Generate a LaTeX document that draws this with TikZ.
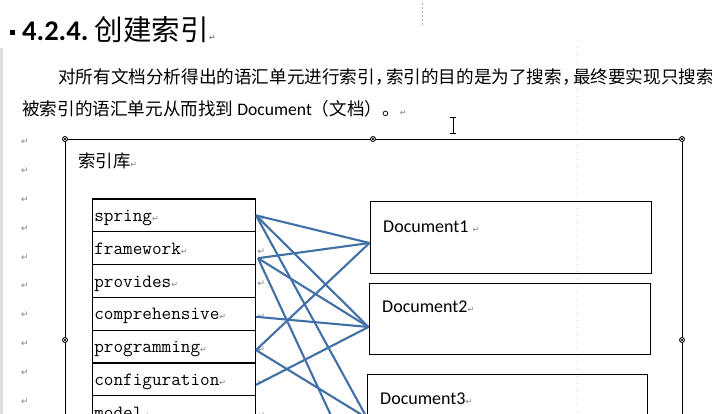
\documentclass[tikz,border=0pt]{standalone}
\usepackage{fontspec}
\setmainfont{Carlito}
\newfontfamily\cjk{Noto Sans CJK SC}
\newfontfamily\markfont{DejaVu Sans}
\usepackage{tikz}
\usetikzlibrary{calc}
\definecolor{linkblue}{RGB}{64,112,166}
\newcommand\retmark{{\markfont\fontsize{8}{8}\selectfont\color{gray}↵}}
\newcommand\halfcomma{\makebox[11pt][l]{，}}
\tikzset{
  cell/.style={draw, line width=1.1pt, anchor=west, minimum height=32.8pt, text width=159pt, text height=13pt, text depth=1pt, inner xsep=2.2pt, inner ysep=0pt, font=\ttfamily\fontsize{18.7}{20}\selectfont},
  docbox/.style={draw, line width=1pt, minimum width=281pt, minimum height=71pt, inner sep=0pt},
  doclbl/.style={anchor=west, inner sep=0pt, font=\fontsize{18}{20}\selectfont},
  link/.style={draw=linkblue, line width=2.1pt},
  retm/.style={inner sep=0pt, text=gray, font=\markfont\fontsize{9}{9}\selectfont},
  handle/.style={draw, circle, fill=white, minimum size=5pt, inner sep=0pt, line width=0.8pt,
    path picture={\draw[line width=0.5pt] (path picture bounding box.south west) -- (path picture bounding box.north east)
      (path picture bounding box.north west) -- (path picture bounding box.south east);}}
}
\begin{document}
\begin{tikzpicture}[x=1pt, y=-1pt,
  txt/.style={anchor=west, inner sep=0pt}]
\useasboundingbox (0,0) rectangle (712,414);
\clip (0,0) rectangle (712,414);
\fill[gray!25] (0,48) rectangle (2.5,414);
\draw[gray!60, dash pattern=on 2pt off 2pt, line width=0.8pt] (422,3) -- (422,27);
\draw[cyan!35, dash pattern=on 1pt off 6pt, line width=0.8pt] (577,47) -- (577,414);
\node[fill=black, minimum size=5pt, inner sep=0pt] (bul) at (12.5,33) {};
\node[txt] (title) at (22,30) {\fontsize{28.5}{30}\selectfont\bfseries 4.2.4.\ {\cjk\mdseries 创建索引}\retmark};
\node[txt] (para1) at (58,77) {\cjk\fontsize{17.6}{20}\selectfont 对所有文档分析得出的语汇单元进行索引\halfcomma 索引的目的是为了搜索\halfcomma 最终要实现只搜索};
\node[txt] (para2) at (22,109) {\fontsize{17.6}{20}\selectfont{\cjk 被索引的语汇单元从而找到} Document{\cjk （文档）。}\retmark};
\draw[line width=0.8pt] (450,117) -- (456,117) (453,117) -- (453,133) (450,133) -- (456,133);
\foreach \k in {0,...,9}
  \node[retm] (m\k) at (25,142+28.8*\k) {↵};
\draw[line width=0.9pt] (65,460) -- (65,139) -- (682,139) -- (682,460);
\node[txt] (lib) at (78,161) {\cjk\fontsize{17.4}{20}\selectfont 索引库\retmark};
\node[cell] (spring) at (91.5,215.4) {spring\retmark};
\node[cell] (framework) at (91.5,248.2) {framework\retmark};
\node[cell] (provides) at (91.5,281) {provides\retmark};
\node[cell] (comprehensive) at (91.5,313.8) {comprehensive\retmark};
\node[cell] (programming) at (91.5,346.6) {programming\retmark};
\node[cell] (configuration) at (91.5,379.4) {configuration\retmark};
\node[cell] (model) at (91.5,412.2) {model\retmark};
\foreach \w [count=\i] in {spring,framework,provides,comprehensive,programming,configuration,model}
  \node[retm, anchor=west] (r\i) at ([xshift=1.5pt,yshift=-3pt]\w.east) {↵};
\node[docbox] (doc1) at (510.5,237.5) {};
\node[docbox] (doc2) at (509.5,318.5) {};
\node[docbox, minimum width=280pt, minimum height=72pt] (doc3) at (507.5,410) {};
\node[doclbl] (l1) at ([xshift=13.5pt,yshift=-25pt]doc1.north west) {Document1 \retmark};
\node[doclbl] (l2) at ([xshift=13.5pt,yshift=-24pt]doc2.north west) {Document2\retmark};
\node[doclbl] (l3) at ([xshift=13pt,yshift=-25pt]doc3.north west) {Document3\retmark};
\foreach \p [count=\i] in {(65,139),(373,139),(682,139),(65,340),(682,340)}
  \node[handle] (h\i) at \p {};
\coordinate (d1) at ([yshift=-5.5pt]doc1.west);
\coordinate (d2) at ([yshift=-8.5pt]doc2.west);
\coordinate (d3) at ([yshift=-8pt]doc3.west);
\coordinate (fw) at ([xshift=2pt,yshift=-10pt]framework.east);
\coordinate (fwend) at (347,450);
\draw[link] (spring.east) -- (d1);
\draw[link] (spring.east) -- (d2);
\draw[link] (spring.east) -- (d3);
\draw[link] (fw) -- (d1);
\draw[link] (fw) -- (d2);
\draw[link] (fw) -- (fwend);
\draw[link] ([yshift=-3pt]comprehensive.east) -- (d2);
\draw[link] ([yshift=-3.5pt]programming.east) -- (d1);
\draw[link] ([yshift=-3.5pt]programming.east) -- (d3);
\draw[link] ([yshift=-5.5pt]configuration.east) -- (d2);
\end{tikzpicture}
\end{document}
